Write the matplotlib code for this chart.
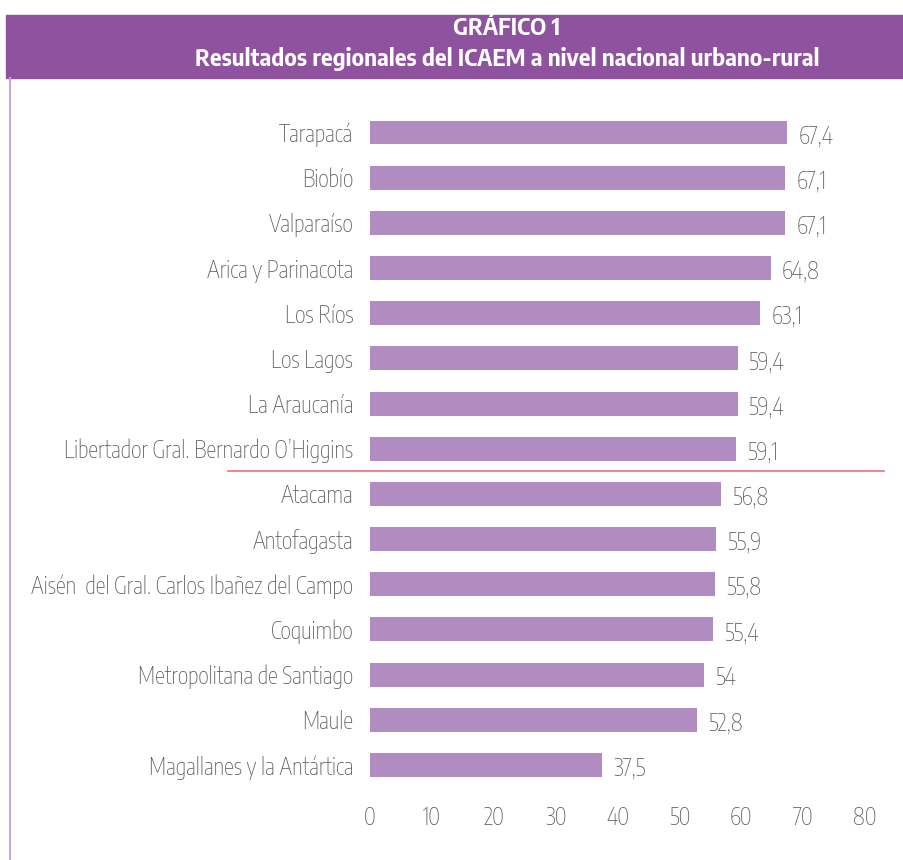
import matplotlib.pyplot as plt
from matplotlib.patches import Rectangle
from matplotlib.lines import Line2D

regiones = ['Tarapacá', 'Biobío', 'Valparaíso', 'Arica y Parinacota', 'Los Ríos',
            'Los Lagos', 'La Araucanía', 'Libertador Gral. Bernardo O\u2019Higgins',
            'Atacama', 'Antofagasta', 'Aisén  del Gral. Carlos Ibañez del Campo',
            'Coquimbo', 'Metropolitana de Santiago', 'Maule', 'Magallanes y la Antártica']
valores = [67.4, 67.1, 67.1, 64.8, 63.1, 59.4, 59.4, 59.1,
           56.8, 55.9, 55.8, 55.4, 54, 52.8, 37.5]
ticks = [0, 10, 20, 30, 40, 50, 60, 70, 80]

plt.rcParams['font.family'] = ['Encode Sans Condensed', 'Roboto Condensed',
                               'Fira Sans Condensed', 'Liberation Sans', 'DejaVu Sans']
titulo_font = ['Encode Sans Semi Condensed', 'Encode Sans Condensed', 'DejaVu Sans']
gris = '#595959'
morado = '#8E529F'
barra = '#B18CC1'

W, H = 904, 860
fig = plt.figure(figsize=(W / 100, H / 100), dpi=100)

# header band + left border
fig.patches.append(Rectangle((6 / W, 1 - 78 / H), 1 - 6 / W, 63 / H,
                             transform=fig.transFigure, color=morado, zorder=0))
fig.lines.append(Line2D([10 / W, 10 / W], [0, 1 - 78 / H], transform=fig.transFigure,
                        color='#C7A9D3', lw=1.5))
fig.text(507 / W, 1 - 28 / H, 'GRÁFICO 1', color='white', fontsize=16.3,
         fontweight='bold', ha='center', va='center', family=titulo_font)
fig.text(507 / W, 1 - 59 / H, 'Resultados regionales del ICAEM a nivel nacional urbano-rural',
         color='white', fontsize=16.3, fontweight='bold', ha='center', va='center',
         family=titulo_font)

ax = fig.add_axes([370 / W, 0.0842, 495 / W, 0.788])
y = list(range(len(regiones)))
ax.barh(y, valores, height=0.53, color=barra)
for yi, v in zip(y, valores):
    txt = ('%g' % v).replace('.', ',')
    ax.text(v + 1.8, yi + 0.08, txt, color=gris, fontsize=16.3, fontweight='light',
            va='center', ha='left')

ax.set_xlim(0, 80)
ax.set_ylim(len(regiones) - 0.5, -0.5)
ax.set_yticks(y)
ax.set_yticklabels(regiones, fontweight='light')
ax.set_xticks(ticks)
ax.set_xticklabels([str(t) for t in ticks], fontweight='light')
ax.tick_params(length=0, labelsize=16.3, labelcolor=gris)
ax.tick_params(axis='y', pad=12)
ax.tick_params(axis='x', pad=13)
for s in ax.spines.values():
    s.set_visible(False)

# separator line between the groups
ax.axhline(7.5, xmin=(228 - 370) / 495, xmax=(884 - 370) / 495,
           color='#F06C78', lw=1.2, clip_on=False)

fig.savefig('out.png', dpi=100)
